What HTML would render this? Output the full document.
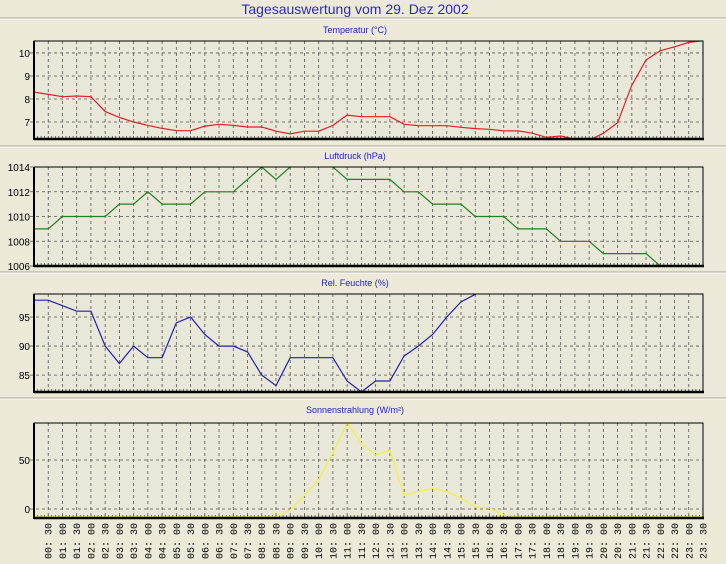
<!DOCTYPE html>
<html><head><meta charset="utf-8"><style>
html,body{margin:0;padding:0;background:#ECE9D8;}
svg{display:block;font-family:"Liberation Sans",sans-serif;}
</style></head><body>
<svg id="c" width="726" height="564" viewBox="0 0 726 564"></svg>
<script>
const times=[];for(let i=1;i<48;i++){const m=i*30;times.push(String(Math.floor(m/60)).padStart(2,'0')+':'+(m%60?'30':'00'));}
const tempValues=[8.3,8.2,8.1,8.13,8.1,7.45,7.2,7.0,6.85,6.72,6.62,6.62,6.82,6.9,6.85,6.78,6.78,6.6,6.48,6.6,6.6,6.85,7.3,7.23,7.23,7.23,6.9,6.84,6.84,6.84,6.77,6.71,6.68,6.61,6.61,6.51,6.33,6.39,6.25,6.2,6.51,6.97,8.6,9.7,10.1,10.27,10.46,10.53];
const pressValues=[1009,1009,1010,1010,1010,1010,1011,1011,1012,1011,1011,1011,1012,1012,1012,1013,1014,1013,1014,1015,1015,1014,1013,1013,1013,1013,1012,1012,1011,1011,1011,1010,1010,1010,1009,1009,1009,1008,1008,1008,1007,1007,1007,1007,1006,1005,1005,1005];
const humValues=[97.9,97.9,96.95,96,96,90,87,90,88,88,94,95,92,90,90,89,85,83.2,88,88,88,88,84,82.1,84,84,88.3,90,92,95,97.6,98.9,100,100,100,100,100,100,100,100,100,100,100,100,100,100,100,100];
const sunValues=[-8,-8,-8,-8,-8,-8,-8,-8,-8,-8,-8,-8,-8,-8,-8,-8,-8,-8,-1,14,30,57,88,67,55,60,14,18,21,18,11,2,1,-6,-8,-8,-8,-8,-8,-8,-8,-8,-8,-8,-8,-8,-8,-8];
const tempTicks=[7,8,9,10],pressTicks=[1006,1008,1010,1012,1014],humTicks=[85,90,95],sunTicks=[0,50];
const NS='http://www.w3.org/2000/svg',svg=document.getElementById('c');
function mk(t,a,p){const e=document.createElementNS(NS,t);for(const k in a)e.setAttribute(k,a[k]);(p||svg).appendChild(e);return e;}
const X0=34,X1=703;
function xs(i){return X0+(X1-X0)*i/47;}
const title=mk('text',{x:355,y:14,'text-anchor':'middle','font-size':14,fill:'#2a2ac8'});title.textContent='Tagesauswertung vom 29. Dez 2002';


[18,146,272,398].forEach(y=>{mk('line',{x1:0,x2:726,y1:y,y2:y,stroke:'#a8a596'});mk('line',{x1:0,x2:726,y1:y+1,y2:y+1,stroke:'#ffffff'});});
function panel(name,label,top,bot,vTop,vBot,ticks,vals,color,ty){
  const g=mk('g',{});
  
  
  const ys=v=>top+(vTop-v)/(vTop-vBot)*(bot-top);
  const t=mk('text',{x:355,y:ty,'text-anchor':'middle','font-size':9,fill:'#2222cc'},g);t.textContent=label;
  
  
  mk('rect',{x:X0,y:top,width:X1-X0,height:bot-top,fill:'#E9E7D7'},g);
  for(let i=1;i<47;i++){const l=mk('line',{x1:xs(i),x2:xs(i),y1:top,y2:bot,stroke:'#555',"stroke-width":0.8,'stroke-dasharray':'3,3'},g);}
  ticks.forEach(v=>{const y=ys(v);mk('line',{x1:X0-4,x2:X1,y1:y,y2:y,stroke:'#555','stroke-width':0.8,'stroke-dasharray':'3,3'},g);
    const tl=mk('text',{x:X0-4,y:y+4,'text-anchor':'end','font-size':10,fill:'#000'},g);tl.textContent=v;
    
    });
  for(let i=0;i<=188;i++){const x=X0+(X1-X0)*i/188;mk('line',{x1:x,x2:x,y1:bot-3,y2:bot,stroke:'#333','stroke-width':0.7},g);}
  const cid='clip'+name;const cp=mk('clipPath',{id:cid},g);mk('rect',{x:X0,y:top,width:X1-X0,height:bot-top},cp);
  const pts=vals.map((v,i)=>xs(i).toFixed(1)+','+ys(v).toFixed(1)).join(' ');
  const pl=mk('polyline',{points:pts,fill:'none',stroke:color,'stroke-width':1.2,'clip-path':'url(#'+cid+')'},g);
  
  
  mk('rect',{x:X0,y:top,width:X1-X0,height:bot-top,fill:'none',stroke:'#000','stroke-width':1},g);
  mk('line',{x1:X0,x2:X0,y1:top,y2:bot+1,stroke:'#000','stroke-width':2},g);
  mk('line',{x1:X0,x2:X1+1,y1:bot,y2:bot,stroke:'#000','stroke-width':2.5},g);
}
panel('temperature','Temperatur (°C)',41,139,10.52,6.26,tempTicks,tempValues,'#e0202a',33);
panel('pressure','Luftdruck (hPa)',167,266,1014,1006,pressTicks,pressValues,'#208020',159);
panel('humidity','Rel. Feuchte (%)',294,392,98.96,82.1,humTicks,humValues,'#2020b0',286);
panel('solar','Sonnenstrahlung (W/m²)',423,518,87.8,-9.2,sunTicks,sunValues,'#f4f040',413);
times.forEach((t,k)=>{const x=xs(k+1);const e=mk('text',{x:0,y:0,transform:'translate('+(x+3.5)+',523) rotate(-90)','text-anchor':'end','font-size':10,'font-family':'Liberation Mono, monospace',fill:'#000'});e.textContent=t.replace(':',': ');
  
  });
</script>
</body></html>
